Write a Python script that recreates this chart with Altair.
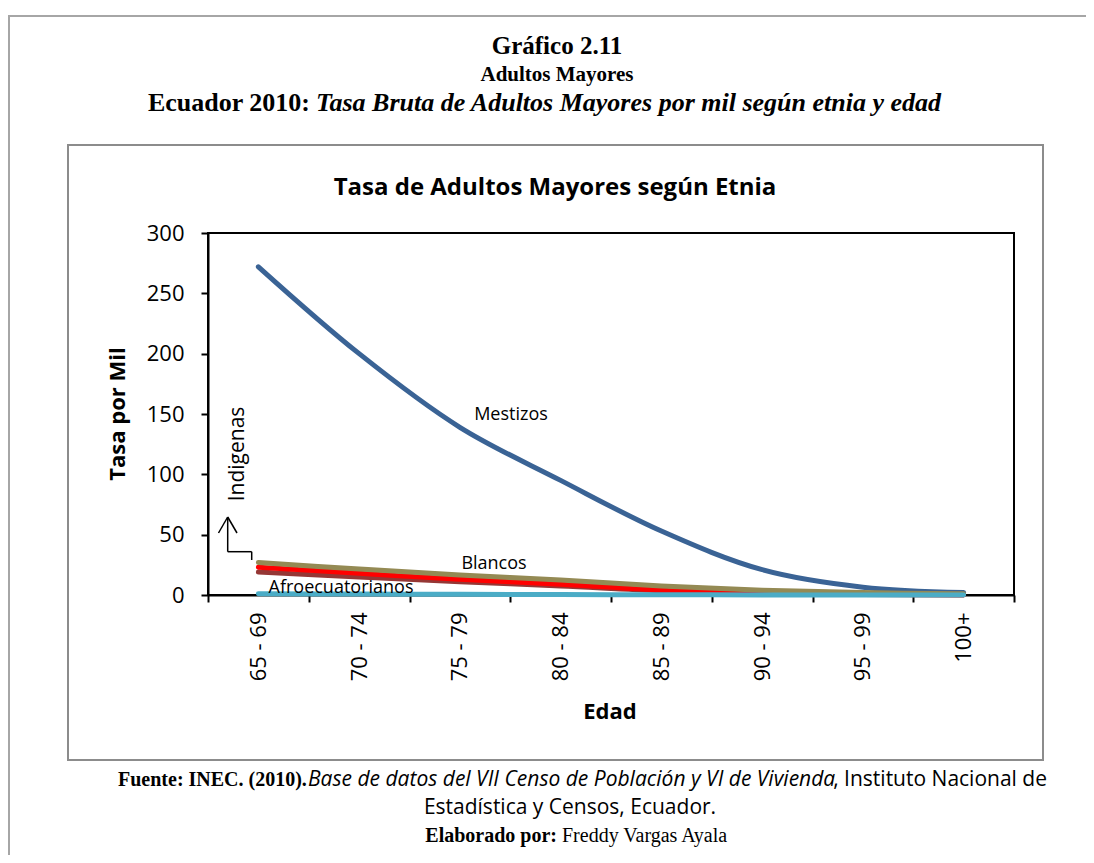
import altair as alt
import pandas as pd

# ---------------- data ----------------
edades = ["65 - 69", "70 - 74", "75 - 79", "80 - 84", "85 - 89", "90 - 94", "95 - 99", "100+"]
mestizos = [272, 200, 139, 95, 53, 21, 6.5, 2]
indigenas = [27, 21.5, 16.5, 12.5, 7.5, 4, 2, 1]
blancos = [23, 18, 13, 9, 4, 1.5, 0.5, 0.2]
montubios = [19, 15, 11, 7.5, 3.5, 1.3, 0.4, 0.1]
afroecuatorianos = [1, 0.8, 0.6, 0.4, 0.2, 0.1, 0.05, 0.02]
y_ticks = [0, 50, 100, 150, 200, 250, 300]

series_names = ["Mestizos", "Montubios", "Blancos", "Indígenas", "Afroecuatorianos"]
series_values = [mestizos, montubios, blancos, indigenas, afroecuatorianos]
series_colors = ["#3A6395", "#953735", "#FF0000", "#948A54", "#4BACC6"]

rows = []
for name, vals in zip(series_names, series_values):
    for e, v in zip(edades, vals):
        rows.append({"serie": name, "edad": e, "tasa": v})
df = pd.DataFrame(rows)

# ---------------- layout ----------------
W, H = 806, 362
OX, OY = 208, 233          # page position of plot origin
PAD = {"left": OX - 8, "top": OY - 8, "right": 1086 - OX - W, "bottom": 855 - OY - H}

def px(x):
    return x - OX

def py(y):
    return y - OY

one = pd.DataFrame({"t": [""]})

def text(s, x, y, size, font="Open Sans", weight="normal", style="normal",
         align="center", angle=0, color="black"):
    kw = dict(font=font, fontSize=size, fontWeight=weight, fontStyle=style,
              align=align, baseline="middle", color=color)
    if angle:
        kw["angle"] = angle
    return alt.Chart(pd.DataFrame({"t": [s]})).mark_text(**kw).encode(
        x=alt.value(px(x)), y=alt.value(py(y)), text="t:N")

def rule(x1, y1, x2, y2, color="black", width=1.5):
    return alt.Chart(one).mark_rule(color=color, strokeWidth=width).encode(
        x=alt.value(px(x1)), y=alt.value(py(y1)),
        x2=alt.value(px(x2)), y2=alt.value(py(y2)))

# frames
outer_top = rule(8, 16, 1086, 16, color="#A6A6A6", width=2)
outer_left = rule(9, 16, 9, 855, color="#A6A6A6", width=2)
inner = alt.Chart(one).mark_rect(fillOpacity=0, stroke="#8C8C8C", strokeWidth=2).encode(
    x=alt.value(px(68)), x2=alt.value(px(1043)),
    y=alt.value(py(145)), y2=alt.value(py(760)))

# series lines
xenc = alt.X("edad:N", sort=edades,
             scale=alt.Scale(type="band", domain=edades, paddingInner=0, paddingOuter=0),
             axis=alt.Axis(title=None, labelAngle=-90, tickBand="extent", ticks=True,
                           tickSize=7, tickColor="black", tickWidth=2,
                           labelPadding=10, labelFontSize=22, labelColor="black",
                           labelFont="Open Sans", domainColor="black", domainWidth=2,
                           zindex=0))
yenc = alt.Y("tasa:Q", scale=alt.Scale(domain=[0, 300], nice=False),
             axis=alt.Axis(title=None, values=y_ticks, grid=False, tickSize=7,
                           tickColor="black", tickWidth=2, labelPadding=17,
                           labelFontSize=22, labelColor="black", labelFont="Open Sans",
                           domainColor="black", domainWidth=2, zindex=0))

lines = []
for name, col in zip(series_names, series_colors):
    lines.append(
        alt.Chart(df).transform_filter(alt.datum.serie == name)
        .mark_line(color=col, strokeWidth=5, interpolate="catmull-rom", strokeCap="round")
        .encode(x=xenc, y=yenc)
    )

# annotations
labels = [
    text("Mestizos", 511, 415, 18),
    text("Blancos", 494, 564, 18),
    text("Afroecuatorianos", 341, 588, 18),
    text("Indigenas", 238, 454, 21, angle=270),
]
arrow = [
    rule(251.7, 560, 251.7, 551.7),
    rule(251.7, 551.7, 227.7, 551.7),
    rule(227.7, 551.7, 227.7, 517),
    rule(218.5, 533, 227.7, 517),
    rule(237, 533, 227.7, 517),
]

titles = [
    text("Gráfico 2.11", 557, 46, 25, font="Liberation Serif", weight="bold"),
    text("Adultos Mayores", 557, 75, 21, font="Liberation Serif", weight="bold"),
    text("Ecuador 2010:", 310, 103, 26, font="Liberation Serif", weight="bold", align="right"),
    text("Tasa Bruta de Adultos Mayores por mil según etnia y edad", 316, 103, 26,
         font="Liberation Serif", weight="bold", style="italic", align="left"),
    text("Tasa de Adultos Mayores según Etnia", 555, 188, 24, weight="bold"),
    text("Tasa por Mil", 118, 414, 22, weight="bold", angle=270),
    text("Edad", 610, 712, 22, weight="bold"),
    text("Fuente: INEC. (2010).", 118, 780, 20, font="Liberation Serif", weight="bold", align="left"),
    text("Base de datos del VII Censo de Población y VI de Vivienda", 308, 780, 21,
         style="italic", align="left"),
    text(", Instituto Nacional de", 1047, 780, 21, align="right"),
    text("Estadística y Censos, Ecuador.", 570, 808, 21),
    text("Elaborado por:", 557, 836, 20, font="Liberation Serif", weight="bold", align="right"),
    text("Freddy Vargas Ayala", 562, 836, 20, font="Liberation Serif", align="left"),
]

chart = alt.layer(outer_top, outer_left, inner, *lines, *arrow, *labels, *titles).properties(
    width=W, height=H, padding=PAD, autosize="none", background="white"
).configure(font="Open Sans", view=alt.ViewConfig(stroke="black", strokeWidth=2))

chart.save("out.html", embed_options={"renderer": "svg", "actions": False})
